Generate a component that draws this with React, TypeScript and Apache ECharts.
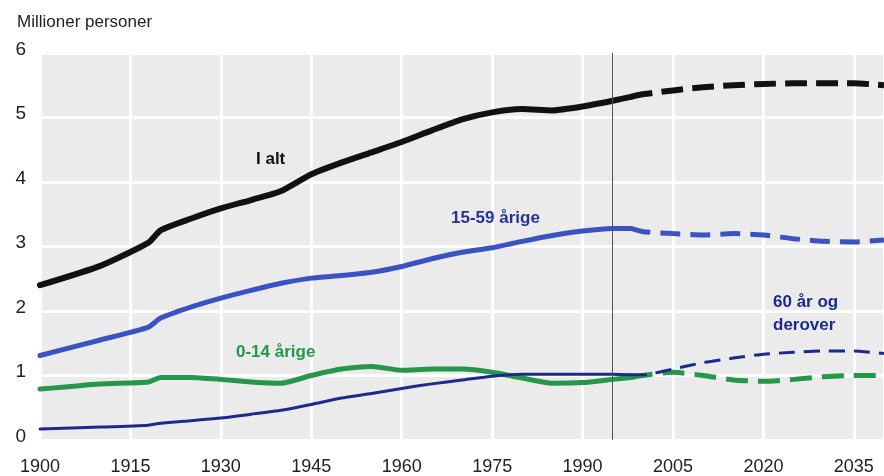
import React, { useEffect, useRef } from "react";
import * as echarts from "echarts";

const histYears = [1900, 1910, 1918, 1920, 1925, 1930, 1935, 1940, 1945, 1950, 1955, 1960, 1965, 1970, 1975, 1980, 1985, 1990, 1995, 1998];
const projYears = [1998, 2000, 2005, 2010, 2015, 2020, 2025, 2030, 2035, 2040];

const totalHist = [2.4, 2.7, 3.06, 3.25, 3.43, 3.59, 3.72, 3.86, 4.12, 4.3, 4.46, 4.62, 4.8, 4.97, 5.08, 5.13, 5.11, 5.17, 5.26, 5.32];
const totalProj = [5.32, 5.36, 5.42, 5.47, 5.5, 5.52, 5.53, 5.53, 5.53, 5.5];

const workHist = [1.31, 1.55, 1.75, 1.89, 2.06, 2.2, 2.32, 2.43, 2.51, 2.55, 2.6, 2.69, 2.81, 2.91, 2.98, 3.08, 3.17, 3.24, 3.28, 3.28];
const workProj = [3.28, 3.23, 3.2, 3.18, 3.2, 3.18, 3.12, 3.08, 3.07, 3.1];

const childHist = [0.79, 0.87, 0.9, 0.97, 0.97, 0.94, 0.9, 0.88, 1.0, 1.1, 1.14, 1.08, 1.1, 1.1, 1.05, 0.96, 0.88, 0.89, 0.94, 0.97];
const childProj = [0.97, 1.0, 1.05, 1.0, 0.93, 0.91, 0.94, 0.98, 1.0, 1.0];

const oldHist = [0.17, 0.2, 0.23, 0.26, 0.3, 0.34, 0.4, 0.46, 0.55, 0.65, 0.72, 0.8, 0.87, 0.93, 0.99, 1.02, 1.02, 1.02, 1.02, 1.01];
const oldProj = [1.01, 1.01, 1.1, 1.2, 1.27, 1.33, 1.36, 1.38, 1.38, 1.34];

const yTicks = [0, 1, 2, 3, 4, 5, 6];
const xTickStart = 1900;
const xTickStep = 15;
const splitYear = 1995;

const labelTexts = {
  total: "I alt",
  work: "15-59 årige",
  child: "0-14 årige",
  old: "60 år og\nderover",
};

const pairs = (xs: number[], ys: number[]) => xs.map((x, i) => [x, ys[i]]);

const C_BLACK = "#111111";
const C_BLUE = "#3a52c4";
const C_NAVY = "#1b2a8c";
const C_GREEN = "#25964a";

export default function App() {
  const ref = useRef<HTMLDivElement>(null);
  useEffect(() => {
    if (!ref.current) return;
    const chart = echarts.init(ref.current, undefined, { renderer: "svg" });
    const font = "'Liberation Sans', Arial, sans-serif";
    const solid = (name: string, data: number[][], color: string, width: number, extra: any = {}) => ({
      type: "line",
      name,
      data,
      showSymbol: false,
      smooth: 0.2,
      lineStyle: { color, width, type: "solid", cap: "round", join: "round" },
      z: 3,
      ...extra,
    });
    const dashed = (name: string, data: number[][], color: string, width: number, dash: number[]) => ({
      type: "line",
      name,
      data,
      showSymbol: false,
      smooth: 0.2,
      lineStyle: { color, width, type: dash, cap: "butt" },
      z: 3,
    });
    chart.setOption({
      animation: false,
      title: {
        text: "Millioner personer",
        left: 12,
        top: 8,
        textStyle: { fontSize: 17, fontWeight: "normal", color: "#222", fontFamily: font },
      },
      grid: {
        left: 40,
        right: 0,
        top: 53,
        bottom: 36,
        show: true,
        backgroundColor: "#ebebeb",
        borderWidth: 0,
      },
      xAxis: {
        type: "value",
        min: xTickStart,
        max: 2040,
        interval: xTickStep,
        axisLine: { show: false },
        axisTick: { show: false },
        axisLabel: {
          fontSize: 18,
          color: "#222",
          fontFamily: font,
          margin: 17,
          showMaxLabel: false,
          formatter: (v: number) => String(v),
        },
        splitLine: { show: true, lineStyle: { color: "#ffffff", width: 3 } },
      },
      yAxis: {
        type: "value",
        min: yTicks[0],
        max: yTicks[yTicks.length - 1],
        interval: 1,
        axisLine: { show: false },
        axisTick: { show: false },
        axisLabel: { fontSize: 19, color: "#222", fontFamily: font, margin: 14, verticalAlign: "bottom", lineHeight: 10 },
        splitLine: { show: true, lineStyle: { color: "#ffffff", width: 3 } },
      },
      series: [
        solid("I alt", pairs(histYears, totalHist), C_BLACK, 6, {
          markLine: {
            silent: true,
            symbol: "none",
            label: { show: false },
            lineStyle: { color: "#555", width: 1, type: "solid" },
            data: [{ xAxis: splitYear }],
          },
        }),
        dashed("I alt prog", pairs(projYears, totalProj), C_BLACK, 6, [22, 9]),
        solid("15-59", pairs(histYears, workHist), C_BLUE, 5),
        dashed("15-59 prog", pairs(projYears, workProj), C_BLUE, 5, [20, 10]),
        solid("0-14", pairs(histYears, childHist), C_GREEN, 5),
        dashed("0-14 prog", pairs(projYears, childProj), C_GREEN, 5, [22, 10]),
        solid("60+", pairs(histYears, oldHist), C_NAVY, 3),
        dashed("60+ prog", pairs(projYears, oldProj), C_NAVY, 3, [16, 9]),
      ],
      graphic: [
        { type: "text", left: 256, top: 150, style: { text: labelTexts.total, fill: C_BLACK, font: `bold 17px ${font}` }, z: 10 },
        { type: "text", left: 451, top: 209, style: { text: labelTexts.work, fill: "#24339a", font: `bold 17px ${font}` }, z: 10 },
        { type: "text", left: 236, top: 343, style: { text: labelTexts.child, fill: C_GREEN, font: `bold 17px ${font}` }, z: 10 },
        { type: "text", left: 773, top: 290, style: { text: labelTexts.old, fill: C_NAVY, font: `bold 17px ${font}`, lineHeight: 23 }, z: 10 },
      ],
    });
    return () => chart.dispose();
  }, []);
  return <div ref={ref} style={{ position: "fixed", left: 0, top: 0, width: 884, height: 476 }} />;
}
